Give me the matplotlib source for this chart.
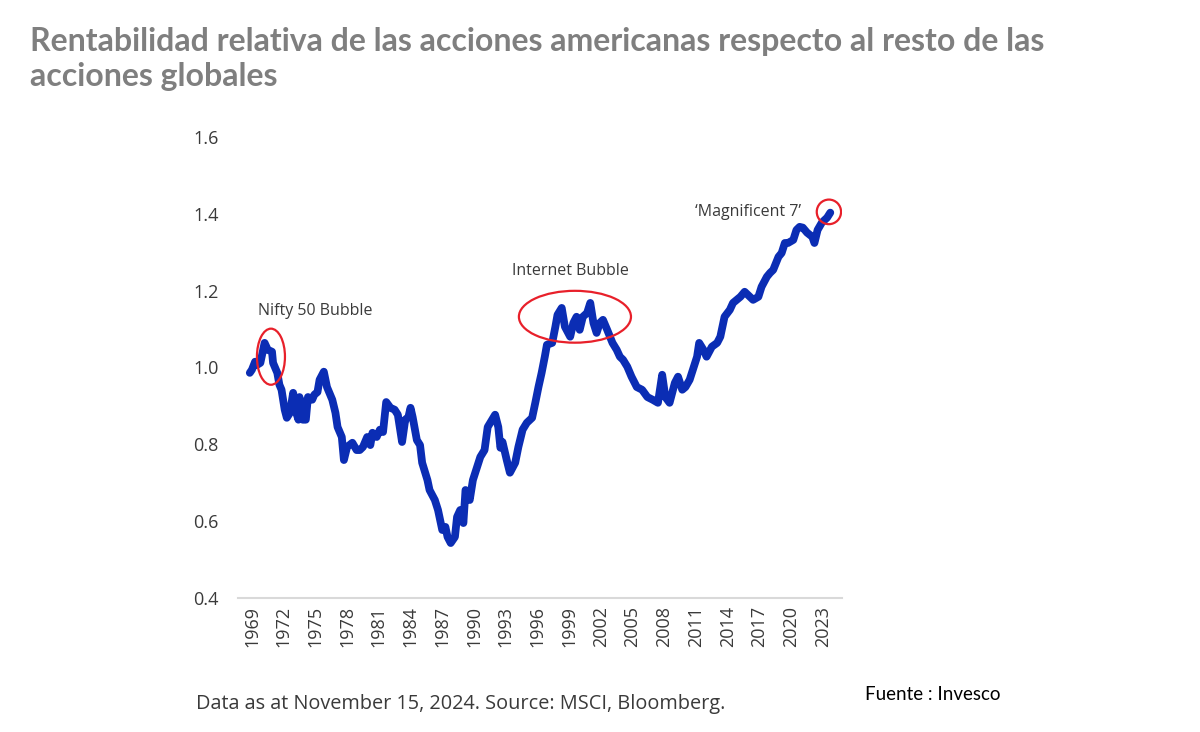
import matplotlib
matplotlib.use("Agg")
import matplotlib.pyplot as plt
from matplotlib.patches import Ellipse

# --- data ---
years = [1968.8, 1969.0, 1969.3, 1969.5, 1969.8, 1970.2, 1970.5, 1970.9, 1971.0, 1971.4,
         1971.6, 1971.8, 1972.1, 1972.3, 1972.6, 1972.9, 1973.1, 1973.4, 1973.5, 1973.8,
         1974.1, 1974.3, 1974.7, 1974.9, 1975.2, 1975.4, 1975.8, 1976.1, 1976.6, 1976.9,
         1977.1, 1977.5, 1977.7, 1978.0, 1978.5, 1978.9, 1979.2, 1979.5, 1979.9, 1980.2,
         1980.4, 1980.8, 1981.1, 1981.4, 1981.7, 1982.1, 1982.5, 1982.8, 1983.2, 1983.5,
         1983.8, 1984.0, 1984.2, 1984.6, 1984.9, 1985.1, 1985.6, 1985.8, 1986.3, 1986.6,
         1987.0, 1987.3, 1987.5, 1987.8, 1988.2, 1988.4, 1988.7, 1989.0, 1989.2, 1989.6,
         1989.9, 1990.3, 1990.6, 1991.0, 1991.3, 1992.0, 1992.3, 1992.5, 1992.7, 1993.1,
         1993.4, 1993.9, 1994.2, 1994.6, 1995.0, 1995.5, 1995.8, 1996.1, 1996.4, 1996.7,
         1996.9, 1997.4, 1997.7, 1997.9, 1998.3, 1998.6, 1999.1, 1999.4, 1999.7, 2000.0,
         2000.3, 2000.7, 2001.0, 2001.3, 2001.6, 2001.9, 2002.2, 2002.6, 2003.1, 2003.5,
         2003.8, 2004.1, 2004.5, 2004.9, 2005.4, 2005.9, 2006.4, 2006.9, 2007.4, 2007.8,
         2008.1, 2008.5, 2009.0, 2009.3, 2009.7, 2010.0, 2010.4, 2010.7, 2011.1, 2011.3,
         2011.7, 2012.0, 2012.5, 2013.0, 2013.3, 2013.7, 2014.2, 2014.5, 2015.2, 2015.6,
         2015.9, 2016.4, 2016.9, 2017.2, 2017.7, 2018.0, 2018.3, 2018.8, 2019.1, 2019.4,
         2019.7, 2020.2, 2020.5, 2020.8, 2021.1, 2021.5, 2022.0, 2022.2, 2022.5, 2022.9,
         2023.4, 2023.7]
relative = [0.986, 0.994, 1.015, 1.007, 1.012, 1.064, 1.046, 1.041, 1.012, 0.986,
            0.955, 0.942, 0.890, 0.869, 0.882, 0.934, 0.890, 0.864, 0.923, 0.864,
            0.864, 0.923, 0.916, 0.929, 0.936, 0.968, 0.989, 0.949, 0.916, 0.882,
            0.845, 0.819, 0.759, 0.793, 0.804, 0.785, 0.785, 0.793, 0.819, 0.798,
            0.830, 0.819, 0.838, 0.832, 0.910, 0.895, 0.890, 0.877, 0.806, 0.864,
            0.871, 0.895, 0.871, 0.811, 0.798, 0.752, 0.707, 0.681, 0.655, 0.629,
            0.577, 0.585, 0.559, 0.543, 0.559, 0.611, 0.629, 0.595, 0.681, 0.655,
            0.707, 0.741, 0.767, 0.785, 0.845, 0.877, 0.845, 0.791, 0.806, 0.759,
            0.726, 0.752, 0.793, 0.838, 0.856, 0.869, 0.908, 0.949, 0.986, 1.028,
            1.059, 1.064, 1.106, 1.137, 1.155, 1.106, 1.080, 1.116, 1.132, 1.098,
            1.132, 1.142, 1.168, 1.116, 1.090, 1.116, 1.124, 1.098, 1.064, 1.046,
            1.028, 1.020, 1.002, 0.976, 0.949, 0.942, 0.923, 0.916, 0.908, 0.981,
            0.923, 0.908, 0.960, 0.976, 0.942, 0.949, 0.968, 0.994, 1.028, 1.064,
            1.046, 1.028, 1.054, 1.064, 1.080, 1.132, 1.150, 1.168, 1.184, 1.197,
            1.189, 1.176, 1.184, 1.210, 1.236, 1.246, 1.254, 1.288, 1.298, 1.324,
            1.324, 1.332, 1.358, 1.366, 1.364, 1.351, 1.340, 1.324, 1.358, 1.377,
            1.390, 1.403]

xtick_years = list(range(1969, 2024, 3))
ytick_values = [0.4, 0.6, 0.8, 1.0, 1.2, 1.4, 1.6]

# annotations
bubble_labels = ["Nifty 50 Bubble", "Internet Bubble", "\u2018Magnificent 7\u2019"]
label_pos = [(1969.55, 1.147), (1993.6, 1.252), (2010.9, 1.405)]
ellipse_centres = [(1970.8, 1.028), (1999.55, 1.132), (2023.57, 1.405)]
ellipse_sizes = [(2.65, 0.146), (10.6, 0.135), (2.3, 0.064)]

title = "Rentabilidad relativa de las acciones americanas respecto al resto de las\nacciones globales"
footnote = "Data as at November 15, 2024. Source: MSCI, Bloomberg."
source = "Fuente : Invesco"

# --- figure ---
fig = plt.figure(figsize=(12, 7.32), dpi=100)
ax = fig.add_axes([0.1983, 0.1831, 0.5033, 0.6298])

ax.plot(years, relative, color="#0B2DB4", lw=5.6, solid_joinstyle="round",
        solid_capstyle="round", zorder=3)

for (cx, cy), (w, h) in zip(ellipse_centres, ellipse_sizes):
    ax.add_patch(Ellipse((cx, cy), w, h, fill=False, edgecolor="#E8202A", lw=1.6, zorder=4))

for lab, (tx, ty) in zip(bubble_labels, label_pos):
    ax.text(tx, ty, lab, fontsize=11.5, color="#3a3a3a", ha="left", va="center",
            family="Open Sans")

ax.set_xlim(1967.68, 2024.8)
ax.set_ylim(0.4, 1.6)
ax.set_xticks(xtick_years)
ax.set_xticklabels([str(y) for y in xtick_years], rotation=90, fontsize=13,
                   color="#3a3a3a", family="Open Sans")
ax.set_yticks(ytick_values)
ax.set_yticklabels([f"{v:.1f}" for v in ytick_values], fontsize=13, color="#3a3a3a",
                   family="Open Sans")
ax.tick_params(axis="both", length=0, pad=6)
ax.tick_params(axis="y", pad=14)
for s in ["left", "right", "top"]:
    ax.spines[s].set_visible(False)
ax.spines["bottom"].set_color("#d9d9d9")
ax.spines["bottom"].set_linewidth(1.5)

fig.text(30 / 1200, 1 - 59 / 732, title, fontsize=23, fontweight="bold", color="#7f7f7f",
         family="Lato", ha="left", va="center", linespacing=1.25)
fig.text(196 / 1200, 1 - 704 / 732, footnote, fontsize=14.3, color="#3a3a3a",
         family="Open Sans", ha="left", va="center")
fig.text(865 / 1200, 1 - 695 / 732, source, fontsize=13.5, color="#000000",
         family="Lato", ha="left", va="center")

fig.savefig("out.png", dpi=100, facecolor="white")
